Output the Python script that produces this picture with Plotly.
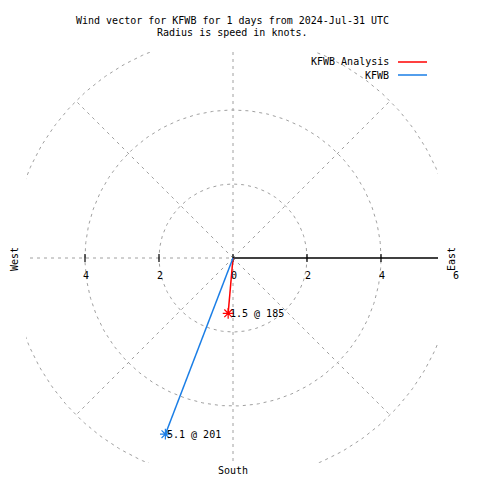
import numpy as np
import plotly.graph_objects as go

# ---- data ----
series_names = ["KFWB Analysis", "KFWB"]
speeds = [1.5, 5.1]          # knots
directions = [185, 201]      # degrees, from north clockwise
series_colors = ["#ff0000", "#1a7ee6"]
value_labels = ["1.5 @ 185", "5.1 @ 201"]

ring_radii = [2, 4, 6]
spoke_angles = [45, 135, 225, 315]
tick_values = [-4, -2, 0, 2, 4, 6]
tick_labels = ["4", "2", "0", "2", "4", "6"]

title_lines = ["Wind vector for KFWB for 1 days from 2024-Jul-31 UTC",
               "Radius is speed in knots."]

FONT = "DejaVu Sans Mono"
GRID = "#a0a0a0"
FS = 10

W = 480
# plot area in screen pixels
L, R, T, B = 26, 438, 52, 463
CX, CY, S = 233, 258, 37.0
xr = [-(CX - L) / S, (R - CX) / S]
yr = [-(B - CY) / S, (CY - T) / S]

def px(x):
    return (x - L) / (R - L)

def py(y):
    return (B - y) / (B - T)

fig = go.Figure()
dash = dict(color=GRID, width=1, dash="3px,4px")

th = np.linspace(0, 2 * np.pi, 361)
for r in ring_radii:
    fig.add_trace(go.Scatter(x=r * np.cos(th), y=r * np.sin(th), mode="lines",
                             line=dash, hoverinfo="skip", showlegend=False))
for a in spoke_angles:
    rad = np.deg2rad(a)
    fig.add_trace(go.Scatter(x=[0, 6 * np.cos(rad)], y=[0, 6 * np.sin(rad)], mode="lines",
                             line=dash, hoverinfo="skip", showlegend=False))
fig.add_trace(go.Scatter(x=[0, 0], y=[-7, 7], mode="lines", line=dash,
                         hoverinfo="skip", showlegend=False))
fig.add_trace(go.Scatter(x=[-7, 0], y=[0, 0], mode="lines", line=dash,
                         hoverinfo="skip", showlegend=False))
fig.add_trace(go.Scatter(x=[0, 7], y=[0, 0], mode="lines",
                         line=dict(color="black", width=1.5),
                         hoverinfo="skip", showlegend=False))
tx, ty = [], []
h = 4 / S
for v in tick_values:
    tx += [v, v, None]
    ty += [-h, h, None]
fig.add_trace(go.Scatter(x=tx, y=ty, mode="lines", line=dict(color="black", width=1.2),
                         hoverinfo="skip", showlegend=False))

for name, spd, d, c in zip(series_names, speeds, directions, series_colors):
    rad = np.deg2rad(d)
    x1, y1 = spd * np.sin(rad), spd * np.cos(rad)
    fig.add_trace(go.Scatter(x=[0, x1], y=[0, y1], mode="lines",
                             line=dict(color=c, width=1.5), name=name, showlegend=False))
    fig.add_trace(go.Scatter(x=[x1], y=[y1], mode="markers",
                             marker=dict(symbol="asterisk-open", size=9, color=c,
                                         line=dict(color=c, width=1.2)),
                             showlegend=False))

annotations = []
for spd, d, lab in zip(speeds, directions, value_labels):
    rad = np.deg2rad(d)
    annotations.append(dict(x=spd * np.sin(rad), y=spd * np.cos(rad), text=lab,
                            xanchor="left", yanchor="middle", showarrow=False,
                            font=dict(family=FONT, size=FS, color="black")))

def txt(x, y, s, **kw):
    d = dict(xref="paper", yref="paper", x=px(x), y=py(y), text=s,
             xanchor="center", yanchor="middle", showarrow=False,
             font=dict(family=FONT, size=FS, color="black"))
    d.update(kw)
    annotations.append(d)

for v, lab in zip(tick_values, tick_labels):
    txt(CX + v * S + 1, CY + 17, lab)

txt(232, 20, title_lines[0])
txt(232, 33, title_lines[1])
txt(14, 259, "West", textangle=-90)
txt(451, 259, "East", textangle=-90)
txt(233, 470, "South")

shapes = []
for i, (name, c) in enumerate(zip(series_names, series_colors)):
    yy = 62 + 13 * i
    txt(391, yy, name, xanchor="right")
    shapes.append(dict(type="line", xref="paper", yref="paper",
                       x0=px(398), x1=px(427), y0=py(yy), y1=py(yy),
                       line=dict(color=c, width=1.5)))

fig.update_layout(
    width=W, height=W, autosize=False,
    margin=dict(l=L, r=W - R, t=T, b=W - B, pad=0),
    paper_bgcolor="white", plot_bgcolor="white",
    showlegend=False,
    xaxis=dict(range=xr, visible=False, showgrid=False, zeroline=False, fixedrange=True),
    yaxis=dict(range=yr, visible=False, showgrid=False, zeroline=False, fixedrange=True),
    annotations=annotations, shapes=shapes,
)

fig.write_html("out.html", config={"displayModeBar": False},
               post_script="document.body.style.margin='0';"
                           "document.documentElement.style.overflow='hidden';"
                           "document.body.style.overflow='hidden';")
